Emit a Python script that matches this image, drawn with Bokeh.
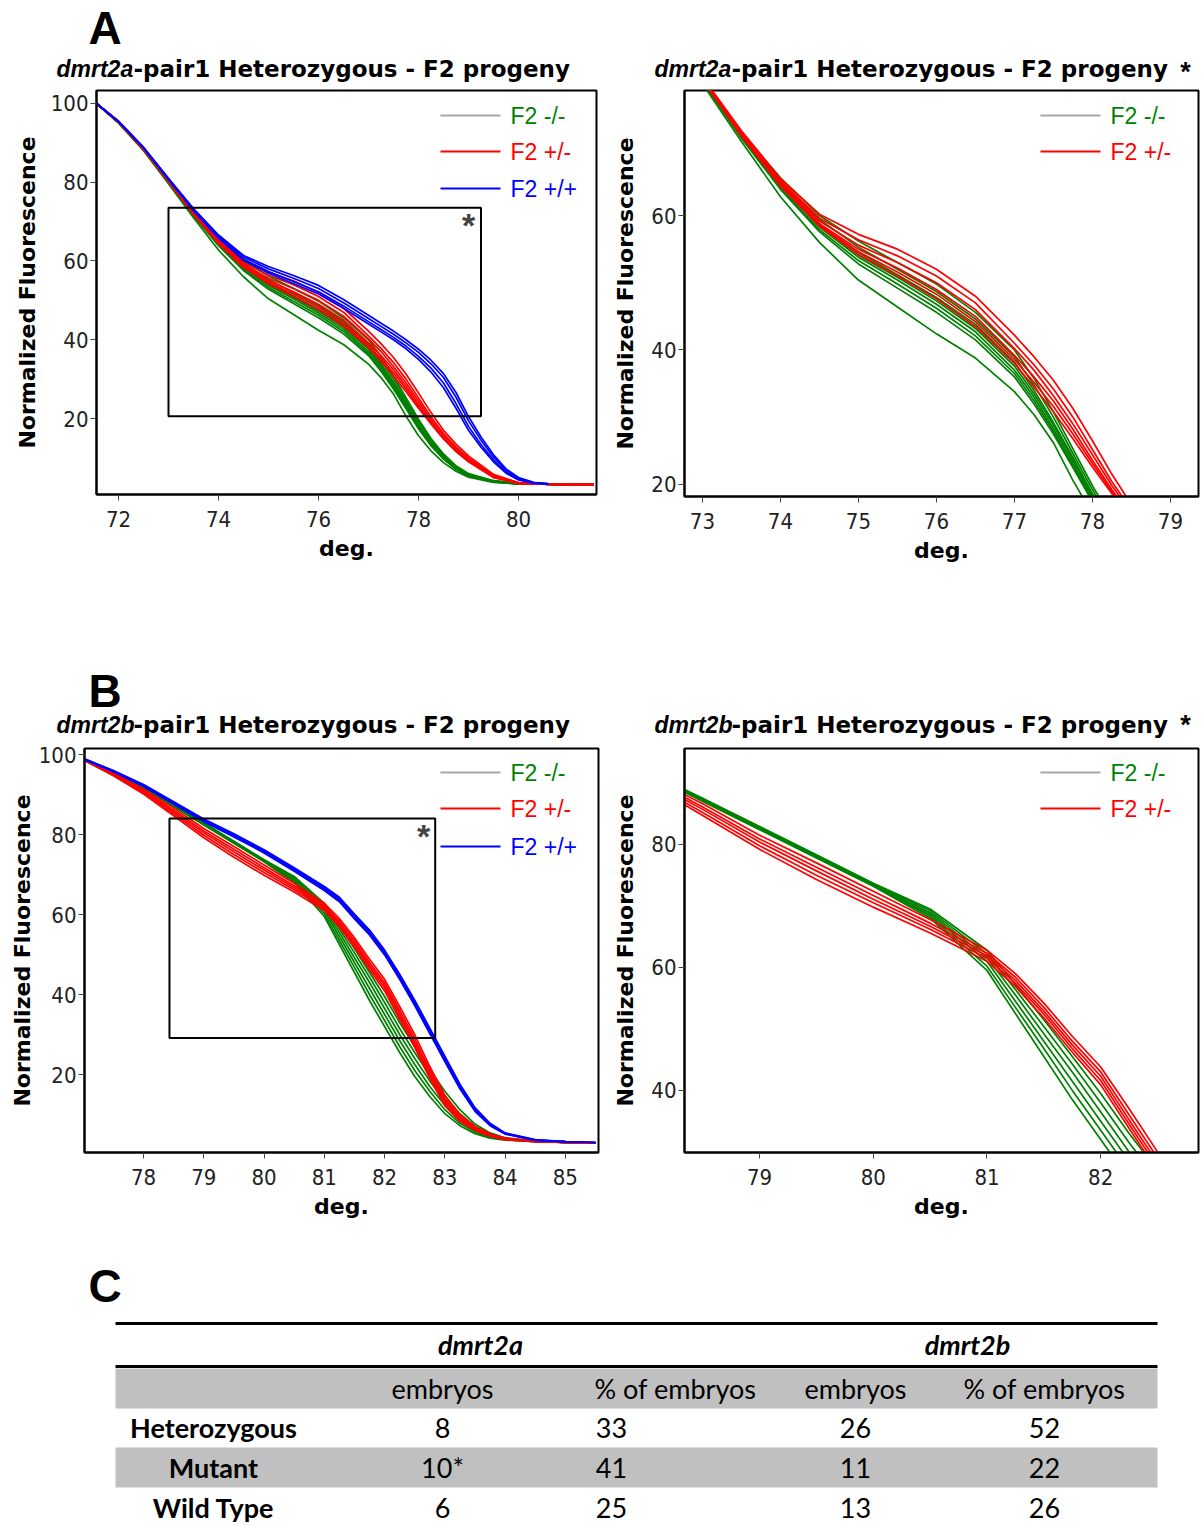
from bokeh.plotting import figure
from bokeh.models import Range1d, FixedTicker, Label, BoxAnnotation
from bokeh.layouts import column, row
from bokeh.embed import file_html
from bokeh.resources import INLINE
from bokeh.core.properties import value

# ---------------- colours / fonts ----------------
GREEN = "#008000"
RED = "#ff0000"
BLUE = "#0000ff"
GREY = "#a8a8a8"
TICK_FONT = "Liberation Sans Narrow, DejaVu Sans Condensed, Liberation Sans"
BOLD_FONT = "DejaVu Sans"
LEG_FONT = "Liberation Sans"

# ---------------- Panel A data (dmrt2a melt curves) ----------------
A_X = [71.56, 72.0, 72.5, 73.0, 73.5, 74.0, 74.5, 75.0, 75.5, 76.0, 76.5, 77.0, 77.25,
       77.5, 77.75, 78.0, 78.25, 78.5, 78.75, 79.0, 79.5, 80.0, 80.5, 81.0, 81.5]
A_MUT_1 = [100, 95.0, 88.0, 79.6, 71.0, 62.8, 56.0, 50.4, 46.4, 42.4, 38.8, 33.8, 30.4, 26.2, 20.6, 15.6, 11.8, 8.8, 6.6, 5.1, 3.8, 3.4, 3.3, 3.2, 3.2]
A_MUT_2 = [100, 95.1, 88.2, 79.9, 71.5, 63.9, 57.6, 52.8, 49.2, 45.6, 41.5, 36.0, 32.0, 27.5, 22.5, 17.4, 13.1, 9.7, 7.1, 5.4, 3.9, 3.4, 3.3, 3.2, 3.2]
A_MUT_3 = [100, 95.2, 88.2, 80.0, 71.6, 64.1, 57.9, 53.3, 49.8, 46.2, 42.1, 36.5, 32.5, 27.9, 22.8, 17.7, 13.3, 9.8, 7.2, 5.4, 3.9, 3.4, 3.3, 3.2, 3.2]
A_MUT_4 = [100, 95.2, 88.3, 80.1, 71.8, 64.4, 58.3, 53.8, 50.4, 46.8, 42.7, 37.0, 33.0, 28.3, 23.2, 18.0, 13.6, 10.0, 7.3, 5.5, 4.0, 3.4, 3.3, 3.2, 3.2]
A_MUT_5 = [100, 95.2, 88.3, 80.2, 71.9, 64.6, 58.6, 54.1, 50.8, 47.3, 43.2, 37.6, 33.5, 28.8, 23.6, 18.3, 13.8, 10.2, 7.5, 5.6, 4.0, 3.4, 3.3, 3.2, 3.2]
A_MUT_6 = [100, 95.2, 88.3, 80.2, 72.0, 64.8, 58.8, 54.5, 51.2, 47.8, 43.8, 38.2, 34.0, 29.2, 24.0, 18.6, 14.0, 10.4, 7.6, 5.7, 4.1, 3.5, 3.3, 3.2, 3.2]
A_MUT_7 = [100, 95.3, 88.4, 80.4, 72.2, 65.2, 59.4, 55.3, 52.0, 48.7, 44.6, 39.0, 34.8, 30.0, 24.6, 19.2, 14.4, 10.7, 7.8, 5.9, 4.2, 3.5, 3.3, 3.2, 3.2]
A_MUT_8 = [100, 95.3, 88.5, 80.5, 72.4, 65.6, 60.0, 56.2, 53.0, 49.8, 45.6, 40.0, 35.8, 30.8, 25.3, 19.8, 14.9, 11.0, 8.0, 6.0, 4.2, 3.5, 3.3, 3.2, 3.2]
A_HET_1 = [100, 95.4, 88.6, 80.6, 72.6, 65.5, 60.2, 57.2, 55.0, 52.0, 48.0, 42.2, 39.0, 35.5, 31.3, 26.5, 21.5, 17.0, 13.5, 10.5, 5.8, 3.7, 3.3, 3.2, 3.2]
A_HET_2 = [100, 95.4, 88.5, 80.5, 72.4, 65.2, 59.6, 56.4, 54.0, 51.0, 47.0, 41.0, 37.8, 34.2, 30.0, 25.2, 20.4, 16.2, 12.8, 10.0, 5.6, 3.7, 3.3, 3.2, 3.2]
A_HET_3 = [100, 95.3, 88.5, 80.4, 72.2, 65.0, 59.2, 55.6, 53.0, 50.0, 46.0, 40.2, 37.0, 33.2, 29.0, 24.4, 19.8, 15.8, 12.4, 9.7, 5.4, 3.6, 3.3, 3.2, 3.2]
A_HET_4 = [100, 95.3, 88.4, 80.3, 72.0, 64.8, 58.8, 55.0, 52.2, 49.0, 45.0, 39.2, 36.0, 32.4, 28.2, 23.6, 19.2, 15.3, 12.0, 9.4, 5.2, 3.6, 3.3, 3.2, 3.2]
A_HET_5 = [100, 95.2, 88.4, 80.2, 71.9, 64.6, 58.6, 54.6, 51.6, 48.3, 44.2, 38.6, 35.2, 31.6, 27.5, 23.1, 18.9, 15.0, 11.8, 9.2, 5.1, 3.5, 3.3, 3.2, 3.2]
A_HET_6 = [100, 95.2, 88.3, 80.2, 71.8, 64.4, 58.4, 54.2, 51.0, 47.6, 43.5, 38.0, 34.5, 30.8, 26.8, 22.6, 18.6, 14.8, 11.6, 9.0, 5.0, 3.5, 3.3, 3.2, 3.2]
A_WT_X = [71.56, 72.0, 72.5, 73.0, 73.5, 74.0, 74.5, 75.0, 75.5, 76.0, 76.5, 77.0, 77.25,
          77.5, 77.75, 78.0, 78.25, 78.5, 78.75, 79.0, 79.25, 79.5, 79.75, 80.0, 80.3, 80.6]
A_WT_1 = [100, 95.5, 88.9, 81.0, 73.3, 66.6, 61.4, 58.6, 56.3, 53.8, 50.2, 46.2, 44.2, 42.2, 40.0, 37.6, 34.8, 31.4, 26.6, 20.5, 15.3, 10.8, 7.2, 5.0, 3.8, 3.4]
A_WT_2 = [100, 95.5, 88.8, 80.9, 73.1, 66.3, 61.0, 58.0, 55.6, 53.0, 49.4, 45.4, 43.4, 41.4, 39.2, 36.8, 33.9, 30.4, 25.4, 19.4, 14.5, 10.2, 6.9, 4.8, 3.7, 3.4]
A_WT_3 = [100, 95.4, 88.7, 80.8, 72.9, 66.0, 60.5, 57.3, 54.8, 52.2, 48.6, 44.6, 42.6, 40.6, 38.4, 35.8, 32.8, 29.0, 23.8, 18.0, 13.4, 9.5, 6.4, 4.6, 3.6, 3.4]
A_WT_4 = [100, 95.4, 88.7, 80.7, 72.8, 65.8, 60.2, 56.9, 54.3, 51.6, 48.0, 44.0, 42.0, 40.0, 37.7, 35.0, 31.8, 27.8, 22.6, 17.0, 12.7, 9.0, 6.1, 4.4, 3.6, 3.4]
A_ZOOM_BOX = [73.0, 79.25, 20.6, 73.5]   # left, right, bottom, top

# ---------------- Panel B data (dmrt2b melt curves) ----------------
B_X = [77.02, 77.5, 78.0, 78.5, 79.0, 79.5, 80.0, 80.5, 81.0, 81.25, 81.5, 81.75,
       82.0, 82.25, 82.5, 82.75, 83.0, 83.25, 83.5, 83.75, 84.0, 84.5, 85.0, 85.5]
B_MUT_1 = [98.7, 95.5, 91.6, 87.0, 82.4, 77.8, 73.2, 68.0, 59.5, 52.5, 45.5, 38.5, 32.0, 25.5, 19.5, 14.5, 10.2, 7.2, 5.2, 4.1, 3.6, 3.2, 3.0, 2.9]
B_MUT_2 = [98.7, 95.5, 91.7, 87.1, 82.5, 77.9, 73.3, 68.3, 60.2, 53.5, 46.8, 40.0, 33.5, 27.0, 21.0, 15.8, 11.2, 7.8, 5.6, 4.3, 3.7, 3.2, 3.0, 2.9]
B_MUT_3 = [98.8, 95.6, 91.8, 87.2, 82.6, 78.0, 73.4, 68.6, 61.0, 54.5, 48.0, 41.5, 35.0, 28.5, 22.5, 17.0, 12.3, 8.6, 6.0, 4.5, 3.8, 3.3, 3.0, 2.9]
B_MUT_4 = [98.8, 95.6, 91.8, 87.3, 82.7, 78.1, 73.5, 68.9, 61.6, 55.5, 49.2, 43.0, 36.5, 30.0, 24.0, 18.4, 13.4, 9.4, 6.5, 4.8, 3.9, 3.3, 3.0, 2.9]
B_MUT_5 = [98.8, 95.7, 91.9, 87.4, 82.8, 78.2, 73.6, 69.2, 62.2, 56.4, 50.4, 44.3, 38.0, 31.5, 25.5, 19.8, 14.5, 10.2, 7.0, 5.1, 4.0, 3.3, 3.0, 2.9]
B_MUT_6 = [98.9, 95.7, 92.0, 87.5, 82.9, 78.3, 73.7, 69.5, 62.8, 57.2, 51.5, 45.5, 39.5, 33.0, 27.0, 21.2, 15.8, 11.2, 7.6, 5.4, 4.2, 3.4, 3.0, 2.9]
B_HET_1 = [98.7, 95.3, 91.3, 86.6, 81.5, 77.0, 72.4, 67.8, 62.8, 59.0, 54.2, 48.8, 43.8, 37.0, 30.0, 22.0, 14.8, 10.0, 7.0, 5.2, 4.1, 3.3, 3.0, 2.9]
B_HET_2 = [98.6, 95.1, 91.0, 86.1, 80.9, 76.3, 71.7, 67.2, 62.3, 58.4, 53.5, 48.0, 43.0, 36.0, 29.0, 21.2, 14.0, 9.5, 6.7, 5.0, 4.0, 3.3, 3.0, 2.9]
B_HET_3 = [98.6, 95.0, 90.7, 85.7, 80.4, 75.7, 71.1, 66.7, 61.9, 57.9, 52.9, 47.4, 42.3, 35.2, 28.2, 20.5, 13.4, 9.1, 6.4, 4.9, 3.9, 3.3, 3.0, 2.9]
B_HET_4 = [98.5, 94.8, 90.4, 85.2, 79.8, 75.0, 70.5, 66.2, 61.5, 57.4, 52.4, 46.8, 41.6, 34.5, 27.5, 19.8, 12.8, 8.7, 6.2, 4.7, 3.8, 3.2, 3.0, 2.9]
B_HET_5 = [98.5, 94.7, 90.1, 84.7, 79.2, 74.3, 69.8, 65.6, 61.0, 56.9, 51.8, 46.2, 40.9, 33.8, 26.8, 19.0, 12.2, 8.3, 6.0, 4.6, 3.7, 3.2, 3.0, 2.9]
B_WT_1 = [98.9, 96.0, 92.5, 88.2, 83.9, 80.2, 76.2, 71.7, 67.0, 64.3, 60.1, 56.1, 51.1, 45.1, 38.6, 31.6, 24.6, 17.6, 11.7, 7.8, 5.4, 3.7, 3.2, 3.0]
B_WT_2 = [98.8, 95.9, 92.3, 88.0, 83.6, 79.9, 75.9, 71.4, 66.7, 63.9, 59.7, 55.7, 50.7, 44.7, 38.2, 31.2, 24.2, 17.2, 11.4, 7.6, 5.3, 3.6, 3.2, 3.0]
B_WT_3 = [98.8, 95.8, 92.2, 87.8, 83.4, 79.7, 75.7, 71.1, 66.4, 63.6, 59.3, 55.3, 50.3, 44.2, 37.7, 30.7, 23.7, 16.8, 11.1, 7.4, 5.2, 3.6, 3.2, 3.0]
B_WT_4 = [98.7, 95.7, 92.0, 87.6, 83.2, 79.4, 75.4, 70.8, 66.0, 63.2, 58.9, 54.9, 49.9, 43.8, 37.2, 30.2, 23.2, 16.4, 10.8, 7.2, 5.1, 3.5, 3.2, 3.0]
B_ZOOM_BOX = [78.43, 82.84, 29.1, 84.0]

A_MUT = [A_MUT_1, A_MUT_2, A_MUT_3, A_MUT_4, A_MUT_5, A_MUT_6, A_MUT_7, A_MUT_8]
A_HET = [A_HET_1, A_HET_2, A_HET_3, A_HET_4, A_HET_5, A_HET_6]
A_WT = [A_WT_1, A_WT_2, A_WT_3, A_WT_4]
B_MUT = [B_MUT_1, B_MUT_2, B_MUT_3, B_MUT_4, B_MUT_5, B_MUT_6]
B_HET = [B_HET_1, B_HET_2, B_HET_3, B_HET_4, B_HET_5]
B_WT = [B_WT_1, B_WT_2, B_WT_3, B_WT_4]

# ---------------- axes / ticks ----------------
A_LEFT_XTICKS = [72, 74, 76, 78, 80]
A_LEFT_YTICKS = [20, 40, 60, 80, 100]
A_RIGHT_XTICKS = [73, 74, 75, 76, 77, 78, 79]
A_RIGHT_YTICKS = [20, 40, 60]
B_LEFT_XTICKS = [78, 79, 80, 81, 82, 83, 84, 85]
B_LEFT_YTICKS = [20, 40, 60, 80, 100]
B_RIGHT_XTICKS = [79, 80, 81, 82]
B_RIGHT_YTICKS = [40, 60, 80]

LEGEND_LABELS = ["F2 -/-", "F2 +/-", "F2 +/+"]
LEGEND_LINE_COLORS = [GREY, RED, BLUE]
LEGEND_TEXT_COLORS = [GREEN, RED, BLUE]
TITLE_GENES = ["dmrt2a", "dmrt2b"]
TITLE_REST = "-pair1 Heterozygous - F2 progeny"
PANEL_LETTERS = ["A", "B", "C"]

# ---------------- table data ----------------
TABLE_GENES = ["dmrt2a", "dmrt2b"]
TABLE_SUBHEADS = ["embryos", "% of embryos", "embryos", "% of embryos"]
TABLE_ROWS = ["Heterozygous", "Mutant", "Wild Type"]
DMRT2A_EMBRYOS = ["8", "10*", "6"]
DMRT2A_PERCENT = [33, 41, 25]
DMRT2B_EMBRYOS = [26, 11, 13]
DMRT2B_PERCENT = [52, 22, 26]

PAGE_W = 1200


class Frame:
    """Maps page pixel positions to data coordinates of one panel."""
    def __init__(self, fig_left, fig_top, fig_w, fig_h, fl, ft, fw, fh, xr, yr):
        self.fig_left, self.fig_top, self.fig_w, self.fig_h = fig_left, fig_top, fig_w, fig_h
        self.fl, self.ft, self.fw, self.fh = fl, ft, fw, fh
        self.xr, self.yr = xr, yr

    def dx(self, px):
        return self.xr[0] + (px - self.fl) / self.fw * (self.xr[1] - self.xr[0])

    def dy(self, py):
        return self.yr[1] - (py - self.ft) / self.fh * (self.yr[1] - self.yr[0])


def make_panel(fr, xticks, yticks, ylab_standoff):
    p = figure(frame_width=fr.fw, frame_height=fr.fh, title=None,
               x_range=Range1d(*fr.xr), y_range=Range1d(*fr.yr),
               min_border_left=fr.fl - fr.fig_left,
               min_border_top=fr.ft - fr.fig_top,
               min_border_right=fr.fig_w - (fr.fl - fr.fig_left) - fr.fw,
               min_border_bottom=fr.fig_h - (fr.ft - fr.fig_top) - fr.fh,
               output_backend="svg", toolbar_location=None)
    p.xgrid.visible = False
    p.ygrid.visible = False
    p.outline_line_color = "black"
    p.outline_line_width = 2
    p.background_fill_color = "white"
    p.border_fill_color = "white"
    for ax in (p.xaxis[0], p.yaxis[0]):
        ax.axis_line_color = "black"
        ax.axis_line_width = 2
        ax.major_tick_out = 6
        ax.major_tick_in = 0
        ax.minor_tick_out = 0
        ax.minor_tick_in = 0
        ax.major_tick_line_color = "#444444"
        ax.major_label_text_font = TICK_FONT
        ax.major_label_text_font_size = "22px"
        ax.major_label_text_color = "#222222"
        ax.axis_label_text_font = BOLD_FONT
        ax.axis_label_text_font_style = "bold"
        ax.axis_label_text_font_size = "22px"
        ax.axis_label_text_color = "black"
    p.xaxis.ticker = FixedTicker(ticks=xticks)
    p.yaxis.ticker = FixedTicker(ticks=yticks)
    p.xaxis.axis_label = "deg."
    p.yaxis.axis_label = "Normalized Fluorescence"
    p.xaxis.major_label_standoff = 10
    p.yaxis.major_label_standoff = 2
    p.xaxis.axis_label_standoff = 6
    p.yaxis.axis_label_standoff = ylab_standoff
    return p


def add_curves(p, xs, curves, color):
    for ys in curves:
        p.line(xs, ys, line_color=color, line_width=1.7)


def add_legend(p, fr, line_x0, ys, n):
    for i in range(n):
        yy = fr.dy(ys[i])
        p.segment(x0=[fr.dx(line_x0)], x1=[fr.dx(line_x0 + 60)], y0=[yy], y1=[yy],
                  line_color=LEGEND_LINE_COLORS[i], line_width=2)
        p.add_layout(Label(x=fr.dx(line_x0 + 70), y=yy, text=LEGEND_LABELS[i],
                           text_color=LEGEND_TEXT_COLORS[i], text_font=LEG_FONT,
                           text_font_size="23px", text_baseline="middle"))


def add_zoom_box(p, fr, box, star_px, star_py):
    p.add_layout(BoxAnnotation(left=box[0], right=box[1], bottom=box[2], top=box[3],
                               fill_alpha=0, line_color="black", line_alpha=1.0, line_width=2))
    p.add_layout(Label(x=fr.dx(star_px), y=fr.dy(star_py), text="*",
                       text_font=LEG_FONT, text_font_style="bold",
                       text_font_size="34px", text_align="center",
                       text_baseline="middle"))


def make_strip(top, bottom):
    """A full-width strip whose data coordinates are page pixels."""
    s = figure(width=PAGE_W, height=bottom - top, title=None,
               x_range=Range1d(0, PAGE_W), y_range=Range1d(bottom, top),
               x_axis_type=None, y_axis_type=None, min_border=0,
               output_backend="svg", toolbar_location=None)
    s.xgrid.visible = False
    s.ygrid.visible = False
    s.outline_line_color = None
    s.background_fill_color = "white"
    s.border_fill_color = "white"
    return s


def add_headings(s, letter, letter_mid, title_mid, gene, star_dy):
    s.text(x=[88], y=[letter_mid], text=[letter], text_font=value(LEG_FONT),
           text_font_style="bold", text_font_size="46px", text_baseline="middle",
           text_color="black")
    for x0 in (56, 654):
        s.text(x=[x0], y=[title_mid], text=[gene], text_font=value(LEG_FONT),
               text_font_style="bold italic", text_font_size="23px",
               text_baseline="middle", text_color="black")
        s.text(x=[x0 + 77], y=[title_mid], text=[TITLE_REST], text_font=value(BOLD_FONT),
               text_font_style="bold", text_font_size="23px",
               text_baseline="middle", text_color="black")
    s.text(x=[1185], y=[title_mid + star_dy], text=["*"], text_font=value(LEG_FONT),
           text_font_style="bold", text_font_size="27px", text_align="center",
           text_baseline="middle", text_color="black")


# ---------------- Panel A ----------------
sA = make_strip(0, 88)
add_headings(sA, PANEL_LETTERS[0], 27, 68, TITLE_GENES[0], 3)

frA1 = Frame(0, 88, 600, 578, 96, 90, 500, 404, (71.56, 81.56), (0.7, 103.3))
pA1 = make_panel(frA1, A_LEFT_XTICKS, A_LEFT_YTICKS, 8)
add_curves(pA1, A_X, A_MUT, GREEN)
add_curves(pA1, A_X, A_HET, RED)
add_curves(pA1, A_WT_X, A_WT, BLUE)
add_zoom_box(pA1, frA1, A_ZOOM_BOX, 468, 224)
add_legend(pA1, frA1, 440, [115, 151, 188], 3)

frA2 = Frame(600, 88, 600, 578, 684, 90, 514, 406, (72.77, 79.36), (18.2, 78.6))
pA2 = make_panel(frA2, A_RIGHT_XTICKS, A_RIGHT_YTICKS, 10)
add_curves(pA2, A_X, A_MUT, GREEN)
add_curves(pA2, A_X, A_HET, RED)
add_legend(pA2, frA2, 1040, [115, 151], 2)

# ---------------- Panel B ----------------
sB = make_strip(666, 740)
add_headings(sB, PANEL_LETTERS[1], 690, 724, TITLE_GENES[1], 0)

frB1 = Frame(0, 740, 600, 515, 84, 748, 514, 404, (77.02, 85.55), (0.5, 101.5))
pB1 = make_panel(frB1, B_LEFT_XTICKS, B_LEFT_YTICKS, 1)
add_curves(pB1, B_X, B_MUT, GREEN)
add_curves(pB1, B_X, B_HET, RED)
add_curves(pB1, B_X, B_WT, BLUE)
add_zoom_box(pB1, frB1, B_ZOOM_BOX, 423, 835)
add_legend(pB1, frB1, 440, [772, 808, 846], 3)

frB2 = Frame(600, 740, 600, 515, 684, 748, 514, 404, (78.34, 82.86), (29.9, 95.6))
pB2 = make_panel(frB2, B_RIGHT_XTICKS, B_RIGHT_YTICKS, 10)
add_curves(pB2, B_X, B_MUT, GREEN)
add_curves(pB2, B_X, B_HET, RED)
add_legend(pB2, frB2, 1040, [772, 808], 2)

# ---------------- Panel C (table) ----------------
pC = make_strip(1255, 1524)

T_LEFT, T_RIGHT = 115, 1157
COL_X = [442, 611, 855, 1044]
SUB_X = [442, 675, 855, 1044]
GENE_X = [480, 967]
LABEL_X = 213
ROW_Y = [1427 + 40 * i for i in range(len(TABLE_ROWS))]
GREY_BAND = "#c0c0c0"

pC.quad(left=[T_LEFT], right=[T_RIGHT], top=[1368], bottom=[1408], fill_color=GREY_BAND, line_color=None)
pC.quad(left=[T_LEFT], right=[T_RIGHT], top=[ROW_Y[1] - 20], bottom=[ROW_Y[1] + 20],
        fill_color=GREY_BAND, line_color=None)
pC.quad(left=[T_LEFT, T_LEFT], right=[T_RIGHT, T_RIGHT], top=[1321.5, 1364.5],
        bottom=[1324.5, 1367.5], fill_color="black", line_color=None)

TF = value("Lato")
pC.text(x=GENE_X, y=[1344, 1344], text=TABLE_GENES, text_font=TF, text_font_style="bold italic",
        text_font_size="27px", text_align="center", text_baseline="middle", text_color="black")
pC.text(x=SUB_X, y=[1388] * 4, text=TABLE_SUBHEADS, text_font=TF, text_font_size="27px",
        text_align="center", text_baseline="middle", text_color="black")
pC.text(x=[LABEL_X] * 3, y=ROW_Y, text=TABLE_ROWS, text_font=TF, text_font_style="bold",
        text_font_size="27px", text_align="center", text_baseline="middle", text_color="black")
cols = [DMRT2A_EMBRYOS, [str(v) for v in DMRT2A_PERCENT],
        [str(v) for v in DMRT2B_EMBRYOS], [str(v) for v in DMRT2B_PERCENT]]
for cx, vals in zip(COL_X, cols):
    pC.text(x=[cx] * 3, y=ROW_Y, text=vals, text_font=TF, text_font_size="27px",
            text_align="center", text_baseline="middle", text_color="black")
pC.text(x=[88], y=[1285], text=[PANEL_LETTERS[2]], text_font=value(LEG_FONT), text_font_style="bold",
        text_font_size="46px", text_baseline="middle", text_color="black")

layout = column(sA, row(pA1, pA2), sB, row(pB1, pB2), pC)
open("out.html", "w").write(file_html(layout, INLINE))
